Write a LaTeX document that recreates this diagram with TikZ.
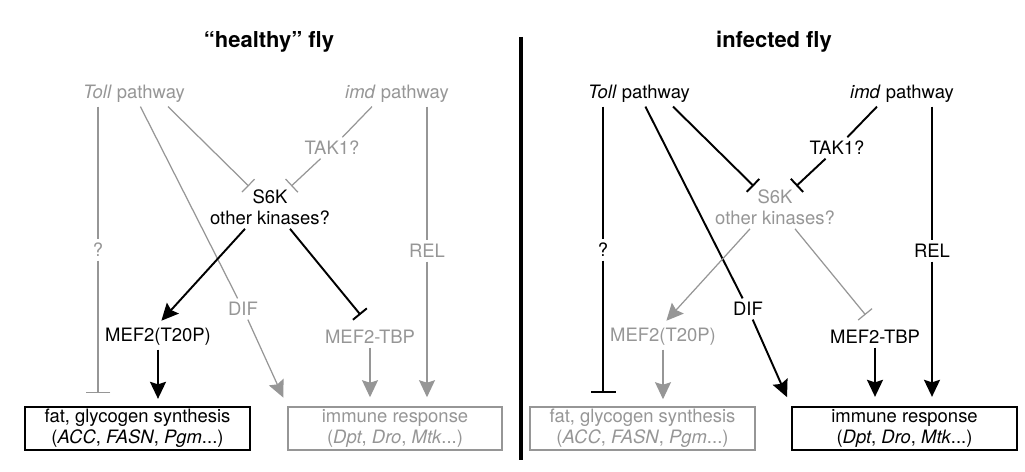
\documentclass[tikz,border=0pt]{standalone}
\usepackage{fontspec}
\setmainfont{TeX Gyre Heros}
\usepackage{tikz}
\usetikzlibrary{calc,arrows.meta}
\definecolor{fadegray}{RGB}{150,150,150}

\tikzset{
  live/.style={draw=black,line width=1.1pt},
  faded/.style={draw=fadegray,line width=0.7pt},
  livetxt/.style={text=black,font=\fontsize{10.5}{12}\selectfont,inner sep=2pt},
  fadedtxt/.style={text=fadegray,font=\fontsize{10.5}{12}\selectfont,inner sep=2pt},
  act/.style={-{Stealth[length=3.4mm,width=3.2mm,inset=0.5mm]}},
  inh/.style={-{Bar[width=3.6mm]}},
  inhq/.style={-{Bar[width=5mm]}},
  genebox/.style={minimum height=0.86cm,align=center,inner sep=1pt},
  paneltitle/.style={font=\fontsize{12.5}{14}\selectfont\bfseries}
}

\begin{document}
\begin{tikzpicture}[x=0.02cm,y=-0.02cm]
    \useasboundingbox (0,0) rectangle (1025,472);

    % Linker Teil: gesunde Fliege
    \node[paneltitle] (titleL) at (269,42) {“healthy” fly};
    \node[fadedtxt] (tollL) at (134,94) {\textit{Toll} pathway};
    \node[fadedtxt] (imdL) at (397,94) {\textit{imd} pathway};
    \node[fadedtxt] (takL) at (332,148) {TAK1?};
    \node[livetxt] (s6kL) at (270,197) {S6K};
    \node[livetxt] (kinL) at (270,218) {other kinases?};
    \node[fadedtxt] (qL) at (98,250) {?};
    \node[fadedtxt] (difL) at (243,309) {DIF};
    \node[fadedtxt] (relL) at (427,251) {REL};
    \node[livetxt] (mefL) at (158,337) {MEF2(T20P)};
    \node[fadedtxt] (tbpL) at (370,337) {MEF2-TBP};
    \node[livetxt,genebox,live,line width=1.3pt,minimum width=4.5cm] (fatL) at (137.5,428.5)
        {fat, glycogen synthesis\\(\textit{ACC}, \textit{FASN}, \textit{Pgm}...)};
    \node[fadedtxt,genebox,faded,line width=0.9pt,minimum width=4.28cm] (immL) at (395,428.5)
        {immune response\\(\textit{Dpt}, \textit{Dro}, \textit{Mtk}...)};

    % Verbindungen links
    \draw[faded] (tollL.south -| qL) -- (qL);
    \draw[faded,inhq,shorten >=0.26cm] (qL) -- (qL |- fatL.north);
    \draw[faded] (tollL) -- (difL);
    \draw[faded,act,shorten >=0.19cm] (difL) -- (immL.north west);
    \draw[faded,inh] ($(tollL.south)+(34,0)$) -- (s6kL.north west);
    \draw[faded] ($(imdL.south)+(-25,0)$) -- (takL);
    \draw[faded,inh] (takL) -- (s6kL.north east);
    \draw[faded] (imdL.south -| relL) -- (relL);
    \draw[faded,act,shorten >=0.18cm] (relL) -- (relL |- immL.north);
    \draw[live,act,shorten >=0.1cm] ($(kinL.south)+(-25,0)$) -- (mefL.north);
    \draw[live,inh,shorten >=0.3cm] ($(kinL.south)+(20,0)$) -- (tbpL.north);
    \draw[live,act,shorten >=0.14cm] (mefL.south) -- (mefL.south |- fatL.north);
    \draw[faded,act,shorten >=0.18cm] (tbpL.south) -- (tbpL.south |- immL.north);

    % Trennlinie
    \draw[line width=2.3pt] (521,37) -- (521,460);

    % Rechter Teil: infizierte Fliege
    \node[paneltitle] (titleR) at (774,42) {infected fly};
    \node[livetxt] (tollR) at (639,94) {\textit{Toll} pathway};
    \node[livetxt] (imdR) at (902,94) {\textit{imd} pathway};
    \node[livetxt] (takR) at (837,148) {TAK1?};
    \node[fadedtxt] (s6kR) at (775,197) {S6K};
    \node[fadedtxt] (kinR) at (775,218) {other kinases?};
    \node[livetxt] (qR) at (603,250) {?};
    \node[livetxt] (difR) at (748,309) {DIF};
    \node[livetxt] (relR) at (932,251) {REL};
    \node[fadedtxt] (mefR) at (663,337) {MEF2(T20P)};
    \node[livetxt] (tbpR) at (875,337) {MEF2-TBP};
    \node[fadedtxt,genebox,faded,line width=0.9pt,minimum width=4.5cm] (fatR) at (642.5,428.5)
        {fat, glycogen synthesis\\(\textit{ACC}, \textit{FASN}, \textit{Pgm}...)};
    \node[livetxt,genebox,live,line width=1.3pt,minimum width=4.5cm] (immR) at (904.5,428.5)
        {immune response\\(\textit{Dpt}, \textit{Dro}, \textit{Mtk}...)};

    % Verbindungen rechts
    \draw[live] (tollR.south -| qR) -- (qR);
    \draw[live,inhq,shorten >=0.26cm] (qR) -- (qR |- fatR.north);
    \draw[live] (tollR) -- (difR);
    \draw[live,act,shorten >=0.19cm] (difR) -- (immR.north west);
    \draw[live,inh] ($(tollR.south)+(34,0)$) -- (s6kR.north west);
    \draw[live] ($(imdR.south)+(-25,0)$) -- (takR);
    \draw[live,inh] (takR) -- (s6kR.north east);
    \draw[live] (imdR.south -| relR) -- (relR);
    \draw[live,act,shorten >=0.18cm] (relR) -- (relR |- immR.north);
    \draw[faded,act,shorten >=0.1cm] ($(kinR.south)+(-25,0)$) -- (mefR.north);
    \draw[faded,inh,shorten >=0.3cm] ($(kinR.south)+(20,0)$) -- (tbpR.north);
    \draw[faded,act,shorten >=0.14cm] (mefR.south) -- (mefR.south |- fatR.north);
    \draw[live,act,shorten >=0.18cm] (tbpR.south) -- (tbpR.south |- immR.north);

\end{tikzpicture}
\end{document}
